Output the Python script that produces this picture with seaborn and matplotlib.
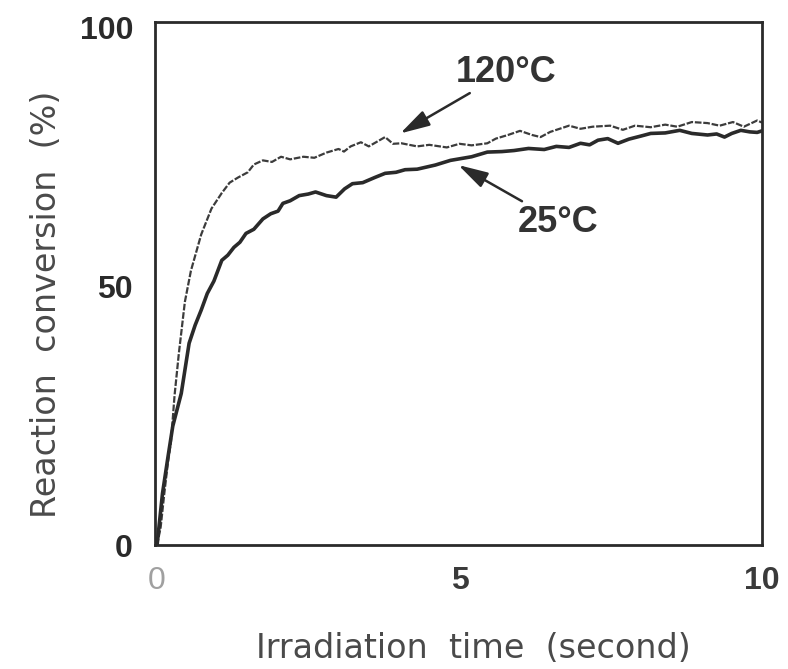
import numpy as np
import pandas as pd
import matplotlib
matplotlib.use("Agg")
import matplotlib.pyplot as plt
import seaborn as sns

# values
time_120 = [0, 0.06, 0.12, 0.18, 0.23, 0.29, 0.36, 0.46, 0.56, 0.73, 0.9, 1.07, 1.2, 1.34, 1.5,
            1.6, 1.75, 1.9, 2.05, 2.2, 2.42, 2.6, 2.8, 3.0, 3.09, 3.2, 3.37, 3.5, 3.65, 3.77,
            3.9, 4.04, 4.3, 4.5, 4.79, 5.0, 5.2, 5.46, 5.6, 5.8, 6.0, 6.2, 6.34, 6.5, 6.81,
            7.0, 7.2, 7.49, 7.7, 7.9, 8.16, 8.4, 8.6, 8.84, 9.1, 9.3, 9.52, 9.7, 9.92, 10.0]
conv_120 = [0, 3.5, 10, 16, 20, 29, 37, 47, 53, 60, 65, 68, 70, 71, 72,
            73.5, 74.3, 74, 75, 74.5, 75, 74.8, 75.8, 76.5, 76, 77, 77.8, 77, 78, 78.8,
            77.5, 77.6, 77, 77.3, 76.8, 77.5, 77.2, 77.6, 78.5, 79.2, 80, 79.2, 78.8, 79.8, 81,
            80.4, 80.8, 81, 80.2, 81, 80.7, 81.2, 80.8, 81.7, 81.5, 81, 81.7, 80.8, 82, 81.6]

time_25 = [0, 0.09, 0.18, 0.26, 0.4, 0.53, 0.63, 0.73, 0.83, 0.94, 1.07, 1.17, 1.27, 1.37, 1.47,
           1.6, 1.75, 1.88, 2.0, 2.08, 2.2, 2.35, 2.5, 2.62, 2.8, 2.96, 3.1, 3.23, 3.4, 3.6,
           3.77, 3.95, 4.1, 4.3, 4.45, 4.6, 4.85, 5.0, 5.2, 5.46, 5.7, 5.9, 6.14, 6.4, 6.6,
           6.81, 7.0, 7.15, 7.29, 7.45, 7.62, 7.8, 8.0, 8.16, 8.4, 8.64, 8.84, 9.1, 9.25, 9.38,
           9.5, 9.65, 9.8, 9.92, 10.0]
conv_25 = [0, 10, 17, 23, 29.3, 39, 42.5, 45.4, 48.6, 51, 55, 56, 57.5, 58.5, 60.2,
           61, 63, 64, 64.5, 66, 66.5, 67.5, 67.8, 68.2, 67.5, 67.2, 68.8, 69.8, 70, 71,
           71.8, 72, 72.5, 72.6, 73, 73.4, 74.3, 74.6, 75, 75.9, 76, 76.2, 76.6, 76.4, 77,
           76.8, 77.6, 77.3, 78.2, 78.5, 77.6, 78.4, 79, 79.5, 79.6, 80.1, 79.5, 79.2, 79.4, 78.8,
           79.5, 80.1, 79.8, 79.7, 80]

x_ticks = [0, 5, 10]
y_ticks = [0, 50, 100]

df_120 = pd.DataFrame({"time": time_120, "conv": conv_120})
df_25 = pd.DataFrame({"time": time_25, "conv": conv_25})

sns.set_style("white")
plt.rcParams['font.family'] = ['Liberation Sans', 'DejaVu Sans']

fig = plt.figure(figsize=(7.88, 6.69), dpi=100)
ax = fig.add_axes([0.197, 0.185, 0.77, 0.782])

ink = "#2a2a2a"
sns.lineplot(data=df_120, x="time", y="conv", ax=ax, sort=False, color="#3c3c3c",
             lw=1.6, linestyle=(0, (3, 0.8)))
sns.lineplot(data=df_25, x="time", y="conv", ax=ax, sort=False, color=ink, lw=2.6)

ax.set_xlim(-0.03, 10)
ax.set_ylim(0, 101)
ax.set_xticks(x_ticks)
ax.set_yticks(y_ticks)
ax.set_xticklabels([str(t) for t in x_ticks], fontsize=23, fontweight="bold")
ax.set_yticklabels([str(t) for t in y_ticks], fontsize=23, fontweight="bold")
ax.tick_params(axis="x", direction="in", length=8, width=1.5, pad=15, colors=ink, labelcolor="#3a3a3a")
ax.tick_params(axis="y", direction="in", length=8, width=1.5, pad=16, colors=ink, labelcolor="#2a2a2a")
ax.get_xticklabels()[0].set_color("#a0a0a0")
ax.get_xticklabels()[0].set_fontweight("normal")

for s in ax.spines.values():
    s.set_color(ink)
    s.set_linewidth(2.0)

ax.set_xlabel("Irradiation  time  (second)", fontsize=24, color="#4a4a4a",
              family=['DejaVu Sans'], va="center")
ax.set_ylabel("Reaction  conversion  (%)", fontsize=24, color="#4a4a4a",
              family=['DejaVu Sans'], va="center")
ax.xaxis.set_label_coords(0.524, -0.197)
ax.yaxis.set_label_coords(-0.18, 0.46)

arrow = dict(arrowstyle="-|>,head_length=0.9,head_width=0.25", color=ink, lw=1.8,
             mutation_scale=20, facecolor="#8a8a8a", shrinkA=0, shrinkB=0)
ax.annotate("120°C", xy=(4.02, 79.5), xytext=(4.93, 91.3), fontsize=26, fontweight="bold",
            color="#333333", ha="left", va="center", arrowprops=arrow)
ax.annotate("25°C", xy=(4.98, 73.4), xytext=(5.97, 62.4), fontsize=26, fontweight="bold",
            color="#333333", ha="left", va="center", arrowprops=arrow)

fig.savefig("out.png", dpi=100)
